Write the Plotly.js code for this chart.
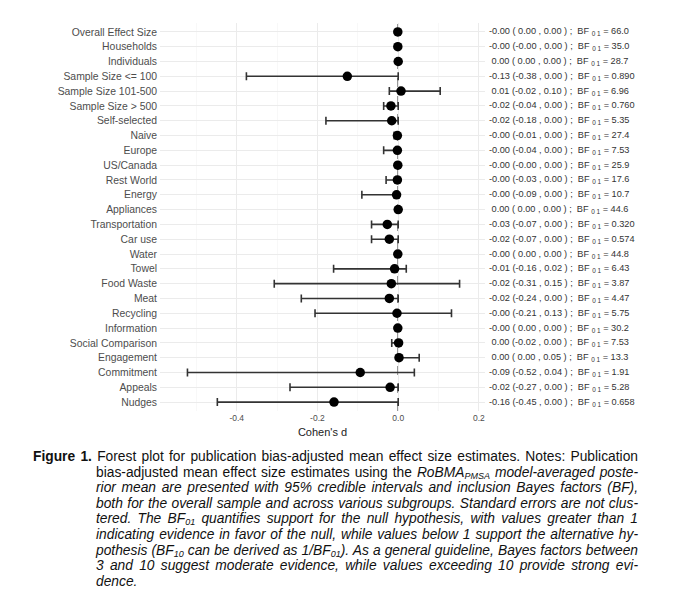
<!DOCTYPE html>
<html>
<head>
<meta charset="utf-8">
<script src="https://cdn.plot.ly/plotly-3.0.1.min.js"></script>
<style>
  html, body { margin: 0; padding: 0; background: #fff; }
  #wrap { position: relative; width: 690px; height: 601px; overflow: hidden; }
  #chart { position: absolute; left: 0; top: 0; width: 690px; height: 601px; }
  .cap {
    position: absolute; height: 16px; line-height: 16px;
    font-family: "Liberation Sans", Arial, sans-serif; font-size: 13.8px; color: #111;
    white-space: nowrap;
  }
  .cap span { display: inline-block; white-space: nowrap; transform-origin: 0 50%; }
  .cap sub { font-size: 9px; line-height: 0; vertical-align: -2px; }
</style>
</head>
<body>
<div id="wrap">
  <div id="chart"></div>
  <div id="caption"></div>
</div>
<script>
const labels = ["Overall Effect Size","Households","Individuals","Sample Size <= 100","Sample Size 101-500","Sample Size > 500","Self-selected","Naive","Europe","US/Canada","Rest World","Energy","Appliances","Transportation","Car use","Water","Towel","Food Waste","Meat","Recycling","Information","Social Comparison","Engagement","Commitment","Appeals","Nudges"];
const estimate = [-0.001,-0.001,0.000,-0.126,0.007,-0.018,-0.016,-0.002,-0.002,-0.001,-0.002,-0.004,0.000,-0.027,-0.022,-0.001,-0.009,-0.017,-0.022,-0.003,-0.001,0.001,0.002,-0.094,-0.020,-0.159];
const lower = [0.000,-0.001,0.000,-0.376,-0.022,-0.036,-0.179,-0.010,-0.036,-0.001,-0.030,-0.090,0.000,-0.066,-0.066,0.000,-0.160,-0.307,-0.240,-0.206,0.000,-0.016,0.000,-0.522,-0.268,-0.448];
const upper = [0.000,0.000,0.000,0.000,0.104,0.000,0.000,0.000,0.000,0.000,0.000,0.000,0.000,0.000,0.000,0.000,0.020,0.152,0.000,0.132,0.000,0.000,0.052,0.040,0.000,0.000];
const bf01 = [66.0,35.0,28.7,0.890,6.96,0.760,5.35,27.4,7.53,25.9,17.6,10.7,44.6,0.320,0.574,44.8,6.43,3.87,4.47,5.75,30.2,7.53,13.3,1.91,5.28,0.658];
const xTicks = [-0.4,-0.2,0.0,0.2];
const xTickText = ["-0.4","-0.2","0.0","0.2"];
const captionLines = [
  "<b>Figure 1.</b> Forest plot for publication bias-adjusted mean effect size estimates. Notes: Publication",
  "bias-adjusted mean effect size estimates using the <i>RoBMA<sub>PMSA</sub> model-averaged poste-</i>",
  "<i>rior mean are presented with 95% credible intervals and inclusion Bayes factors (BF),</i>",
  "<i>both for the overall sample and across various subgroups. Standard errors are not clus-</i>",
  "<i>tered. The BF<sub>01</sub> quantifies support for the null hypothesis, with values greater than 1</i>",
  "<i>indicating evidence in favor of the null, while values below 1 support the alternative hy-</i>",
  "<i>pothesis (BF<sub>10</sub> can be derived as 1/BF<sub>01</sub>). As a general guideline, Bayes factors between</i>",
  "<i>3 and 10 suggest moderate evidence, while values exceeding 10 provide strong evi-</i>",
  "<i>dence.</i>"
];

const rows = labels.map((_, i) => i);
const NB = '\u00A0';
const fmt = v => { const s = v.toFixed(2); return s[0] === '-' ? s : NB + s; };

const trace = {
  type: 'scatter', mode: 'markers',
  x: estimate, y: rows,
  marker: { color: '#000', size: 9.5 },
  error_x: {
    type: 'data', symmetric: false,
    array: upper.map((u, i) => Math.max(u - estimate[i], 0)),
    arrayminus: lower.map((l, i) => Math.max(estimate[i] - l, 0)),
    color: '#333', thickness: 1.6, width: 4
  },
  hoverinfo: 'skip', showlegend: false
};

const annotations = rows.map(i => ({
  xref: 'paper', yref: 'y', x: 1.006, y: i, xanchor: 'left', yanchor: 'middle',
  text: fmt(estimate[i]) + ' (' + fmt(lower[i]) + ' , ' + upper[i].toFixed(2) + ' ) ;' + NB + ' BF' + NB + '<sub>0 1</sub> = ' + bf01[i].toPrecision(3),
  showarrow: false, font: { family: 'Liberation Sans, Arial, sans-serif', size: 9.2, color: '#333' }
}));

const layout = {
  width: 690, height: 601,
  margin: { l: 160, r: 205, t: 23, b: 190 },
  paper_bgcolor: '#fff', plot_bgcolor: '#fff',
  font: { family: 'Liberation Sans, Arial, sans-serif', color: '#4d4d4d' },
  xaxis: {
    range: [-0.59, 0.215], tickvals: xTicks, ticktext: xTickText,
    tickfont: { size: 8.5, color: '#4d4d4d' },
    showgrid: true, gridcolor: '#ebebeb', gridwidth: 1,
    minor: { tickvals: [-0.5,-0.3,-0.1,0.1], showgrid: true, gridcolor: '#f3f3f3', gridwidth: 0.6 },
    zeroline: false, showline: false, ticks: '',
    title: { text: "Cohen's d", font: { size: 11, color: '#222' }, standoff: 6 }
  },
  yaxis: {
    range: [25.6, -0.6], tickvals: rows, ticktext: labels,
    tickfont: { size: 10.4, color: '#4d4d4d' },
    showgrid: true, gridcolor: '#ebebeb', gridwidth: 1,
    zeroline: false, showline: false, ticks: '', ticklabelstandoff: 2
  },
  shapes: [{
    type: 'line', xref: 'x', yref: 'paper', x0: 0, x1: 0, y0: 0, y1: 1,
    line: { color: '#000', width: 1.2, dash: 'dash' }, layer: 'below'
  }],
  annotations: annotations
};

Plotly.newPlot('chart', [trace], layout, { displayModeBar: false, staticPlot: true });

// caption: hanging indent, each line justified to the block edges
const capBox = document.getElementById('caption');
const capLeft = 33, capIndent = 96, capRight = 638, capTop0 = 449, capStep = 15.6;
captionLines.forEach((html, i) => {
  const div = document.createElement('div');
  div.className = 'cap';
  const left = i === 0 ? capLeft : capIndent;
  const width = capRight - left;
  div.style.left = left + 'px';
  div.style.top = (capTop0 + i * capStep) + 'px';
  div.style.width = width + 'px';
  const span = document.createElement('span');
  span.innerHTML = html;
  div.appendChild(span);
  capBox.appendChild(div);
  const last = i === captionLines.length - 1;
  const natural = span.getBoundingClientRect().width;
  if (natural > width) {
    span.style.transform = 'scaleX(' + (width / natural) + ')';
  } else if (!last) {
    const spaces = (span.textContent.match(/ /g) || []).length;
    if (spaces > 0) span.style.wordSpacing = ((width - natural) / spaces) + 'px';
  }
});
</script>
</body>
</html>
